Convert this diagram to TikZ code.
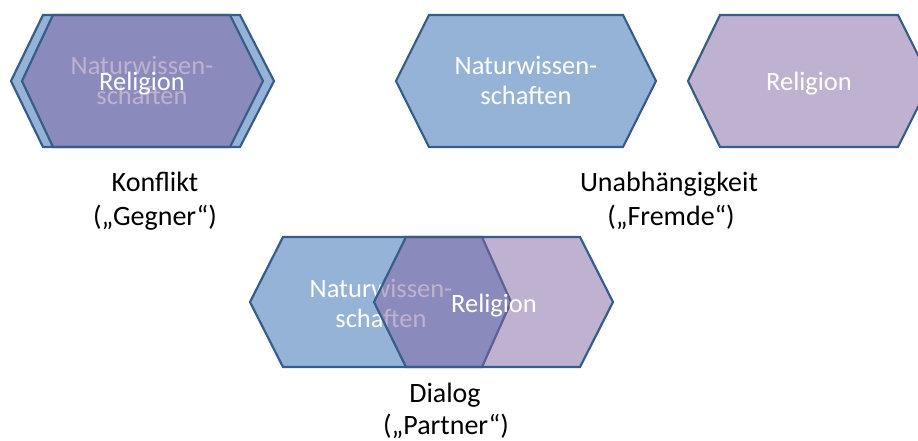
\documentclass[tikz,border=0pt]{standalone}
\usepackage{fontspec}
\setmainfont{Carlito}
\definecolor{nwblue}{RGB}{149,179,215}
\definecolor{relpurple}{RGB}{128,100,162}
\definecolor{edgeblue}{RGB}{56,93,138}
\tikzset{
  hexblue/.style={fill=nwblue, draw=edgeblue, line width=2.2pt, line join=miter},
  hexpurple/.style={fill=relpurple, fill opacity=0.5, draw=edgeblue, draw opacity=1, line width=2.2pt, line join=miter},
  hextext/.style={text=white, anchor=base, inner sep=0pt, font=\fontsize{26.5}{30}\selectfont},
  lbl/.style={text=black, anchor=base, inner sep=0pt, font=\fontsize{28}{33}\selectfont}
}
\begin{document}
\begin{tikzpicture}[x=1pt,y=-1pt]
\useasboundingbox (0,0) rectangle (918,441);
\clip (0,0) rectangle (918,441);
% Konflikt
\path[hexblue] (11,81) -- (43,15) -- (240,15) -- (274,81) -- (240,147) -- (43,147) -- cycle;
\node[hextext] (k-nw1) at (142,75) {Naturwissen-};
\node[hextext] (k-nw2) at (142,105) {schaften};
\path[hexpurple] (22,81) -- (53,15) -- (230,15) -- (263,81) -- (230,147) -- (53,147) -- cycle;
\node[hextext] (k-rel) at (142,91) {Religion};
\node[lbl] (k-l1) at (155,191) {Konflikt};
\node[lbl] (k-l2) at (155,225) {(„Gegner“)};
% Unabhaengigkeit
\path[hexblue] (396,81) -- (429,15) -- (623,15) -- (656,81) -- (623,147) -- (429,147) -- cycle;
\node[hextext] (u-nw1) at (526,75) {Naturwissen-};
\node[hextext] (u-nw2) at (526,105) {schaften};
\path[hexpurple] (688,81) -- (720,15) -- (898,15) -- (931,81) -- (898,147) -- (720,147) -- cycle;
\node[hextext] (u-rel) at (809,91) {Religion};
\node[lbl] (u-l1) at (669,191) {Unabhängigkeit};
\node[lbl] (u-l2) at (671,225) {(„Fremde“)};
% Dialog
\path[hexblue] (250,302) -- (283,237) -- (482,237) -- (511,302) -- (482,367) -- (283,367) -- cycle;
\node[hextext] (d-nw1) at (381,297) {Naturwissen-};
\node[hextext] (d-nw2) at (381,327) {schaften};
\path[hexpurple] (374,302) -- (406,237) -- (580,237) -- (613,302) -- (580,367) -- (406,367) -- cycle;
\node[hextext] (d-rel) at (494,312) {Religion};
\node[lbl] (d-l1) at (445,402) {Dialog};
\node[lbl] (d-l2) at (446,434) {(„Partner“)};
\end{tikzpicture}
\end{document}
